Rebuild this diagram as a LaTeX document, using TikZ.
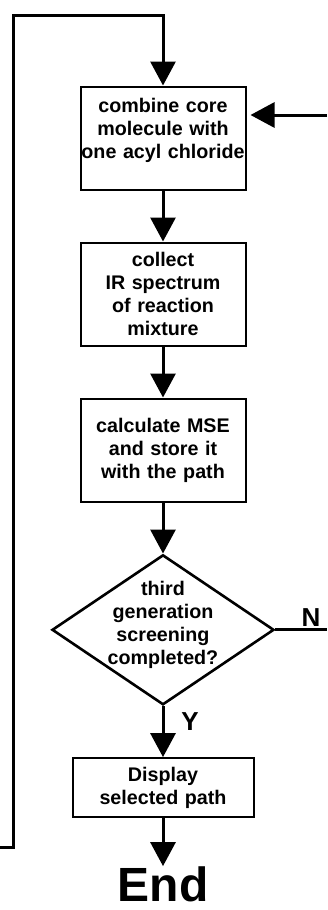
\documentclass[tikz,border=0pt]{standalone}
\usepackage{fontspec}
\setmainfont{Liberation Sans}
\usetikzlibrary{arrows.meta,positioning,shapes.geometric}

\begin{document}
\begin{tikzpicture}[x=1pt,y=1pt,node distance=51pt,
  box/.style={draw,line width=2pt,text width=170pt,align=center,inner xsep=-2.5pt,
              minimum height=103pt,font=\fontsize{19.7}{23}\selectfont\bfseries},
  decision/.style={draw,diamond,line width=2.6pt,aspect=1.48,inner sep=-8pt,align=center,
              text depth=14pt,minimum width=222pt,minimum height=150pt,
              font=\fontsize{19.7}{23}\selectfont\bfseries},
  lbl/.style={inner sep=0pt,font=\fontsize{26}{28}\selectfont\bfseries},
  ln/.style={line width=3pt},
  ar/.style={-{Triangle[length=24pt,width=25pt]},line width=3pt}]
  \useasboundingbox (0,0) rectangle (327,-910);
  \node[box,text depth=66pt] (comb) at (163,-138) {combine core\\ molecule with\\ one acyl chloride};
  \node[box,below=of comb] (ir) {collect\\ IR spectrum\\ of reaction\\ mixture};
  \node[box,below=of ir] (mse) {calculate MSE\\ and store it\\ with the path};
  \node[decision,below=of mse] (done) {third\\ generation\\ screening\\ completed?};
  \node[box,below=of done,text width=186pt,minimum height=59pt] (disp) {Display\\ selected path};
  \node[below=48pt of disp,inner sep=0pt,font=\fontsize{48}{52}\selectfont\bfseries] (end) {End};
  % loop ends leaving the picture
  \coordinate (lin) at (0,-847);
  \coordinate (ltop) at (13,-15);
  \coordinate (rin) at (327,-115);
  \coordinate (nout) at (327,-630);
  \node[lbl] (no) at (311,-618) {N};
  \node[lbl] (yes) at (190,-722) {Y};
  \foreach \a/\b in {comb/ir,ir/mse,mse/done,done/disp,disp/end} \draw[ar] (\a) -- (\b);
  \draw[ar] (lin) -| (ltop) -| (comb.north);
  \draw[ar,shorten >=4pt] (rin) -- (rin -| comb.east);
  \draw[ln] (done.east) -- (done.east -| nout);
\end{tikzpicture}
\end{document}
